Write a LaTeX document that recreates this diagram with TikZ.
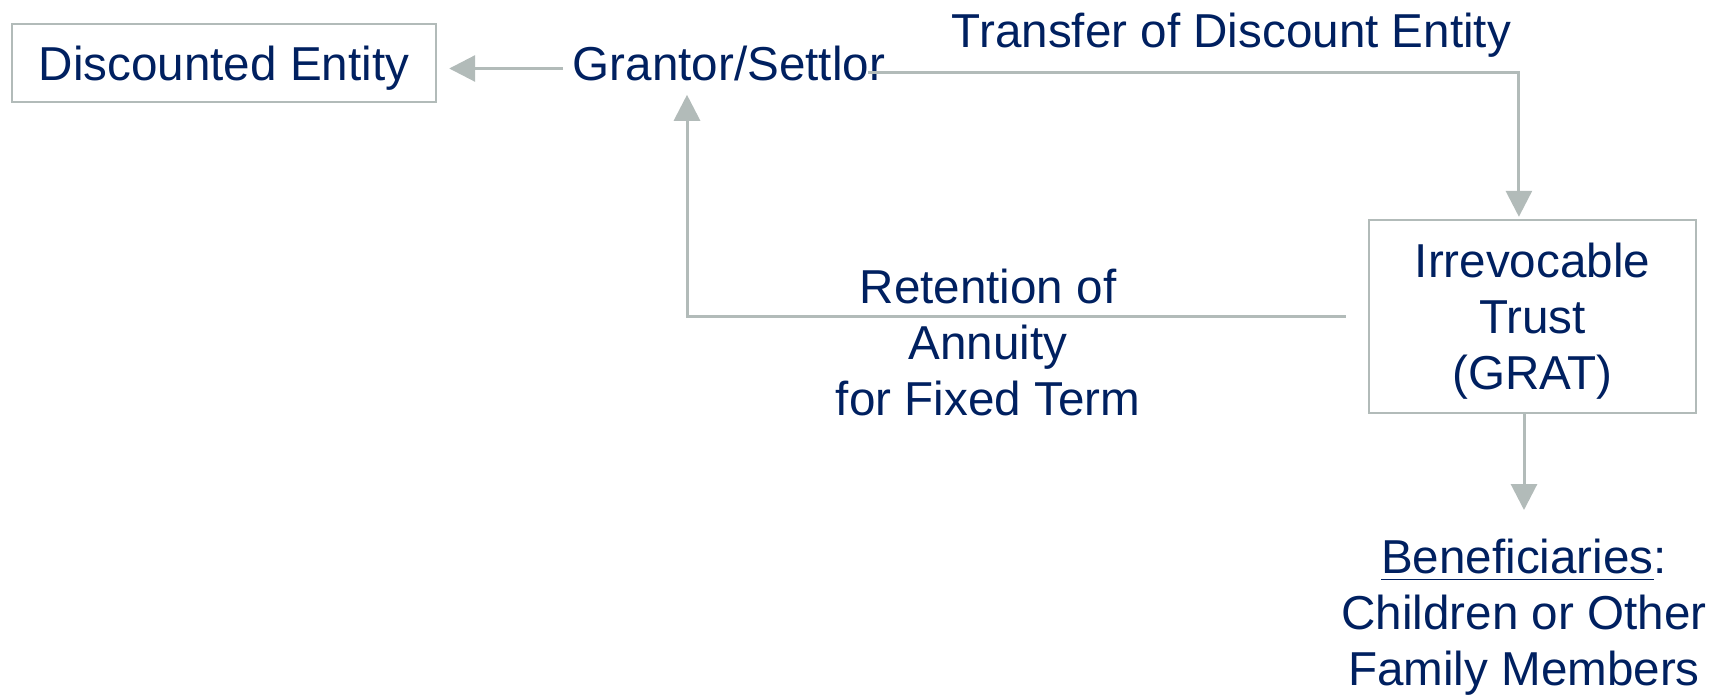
\documentclass[tikz,border=0pt]{standalone}
\usepackage{fontspec}
\setmainfont{Liberation Sans}
\usetikzlibrary{arrows.meta}
\definecolor{navy}{RGB}{0,32,96}
\definecolor{linegray}{RGB}{178,187,185}
\tikzset{
	flow/.style={draw=linegray, line width=0.75pt, -{Triangle[length=6.5pt,width=6.5pt]}},
	box/.style={draw=linegray, line width=0.6pt},
	lbl/.style={text=navy, inner sep=0pt, align=center, font=\fontsize{11.9pt}{14pt}\selectfont}
}
\begin{document}
\begin{tikzpicture}[x=0.25pt, y=-0.25pt]
	\useasboundingbox (0,0) rectangle (1716,695);
	\node[box, lbl, minimum width=106pt, minimum height=19.5pt, text height=9pt, text depth=0pt] (disc) at (224,63) {Discounted Entity};
	\node[lbl, inner xsep=2.25pt, text height=9pt, text depth=2.75pt] (grantor) at (729,68.5) {Grantor/Settlor};
	\node[lbl, anchor=base] (transfer) at (1231.5,48) {Transfer of Discount Entity};
	\node[box, lbl, minimum width=81.75pt, minimum height=48.25pt, text depth=0pt] (trust) at (1532.5,316.5) {Irrevocable\\Trust\\(GRAT)};
	\node[lbl] (retention) at (988,342) {Retention of\\Annuity\\for Fixed Term};
	\node[lbl] (benef) at (1524,617) {\underline{Beneficiaries}:\\Children or Other\\Family Members};
	% arrows
	\draw[flow, shorten >=3pt] (grantor.west) -- (grantor.west -| disc.east);
	\draw[flow, shorten >=0.5pt] ([xshift=-6.7pt,yshift=-1.125pt]grantor.east) -| ([xshift=-3.4pt]trust.north);
	\draw[flow, shorten <=5.5pt, shorten >=0.5pt] (trust.west) -| ([xshift=-10.5pt]grantor.south);
	\draw[flow, shorten >=7pt] (benef.north |- trust.south) -- (benef.north);
\end{tikzpicture}
\end{document}
